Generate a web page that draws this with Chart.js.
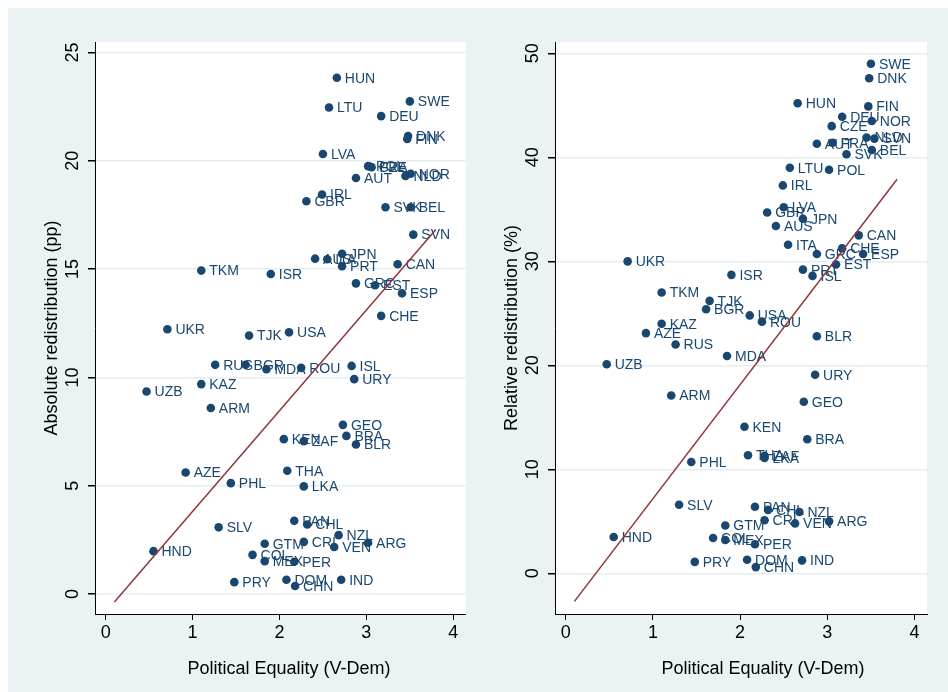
<!DOCTYPE html>
<html>
<head>
<meta charset="utf-8">
<script src="https://cdn.jsdelivr.net/npm/chart.js@4.4.1/dist/chart.umd.min.js"></script>
<style>
html,body{margin:0;padding:0;background:#fff;}
#bg{position:absolute;left:8px;top:8px;width:940px;height:684px;background:#eaf2f3;}
.box{position:absolute;top:8px;height:684px;}
#left{left:8px;width:462px;}
#right{left:470px;width:478px;}
</style>
</head>
<body>
<div id="bg"></div>
<div class="box" id="left"><canvas id="absChart"></canvas></div>
<div class="box" id="right"><canvas id="relChart"></canvas></div>
<script>
// data
const countries = ['HUN','SWE','LTU','DEU','DNK','FIN','LVA','POL','CZE','FRA','AUT','NOR','NLD','IRL','GBR','SVK','BEL','SVN',
  'AUS','ITA','JPN','PRT','CAN','TKM','ISR','GRC','EST','ESP','CHE','UKR','TJK','USA','RUS','BGR','MDA','ROU','ISL','URY',
  'KAZ','UZB','ARM','GEO','BRA','BLR','KEN','ZAF','AZE','PHL','THA','LKA','PAN','CHL','SLV','NZL','ARG','CRI','VEN','GTM',
  'HND','COL','MEX','PER','PRY','DOM','IND','CHN'];
const equality = [2.66,3.50,2.57,3.17,3.48,3.47,2.50,3.02,3.05,3.06,2.88,3.51,3.45,2.49,2.31,3.22,3.51,3.54,
  2.41,2.55,2.72,2.72,3.36,1.10,1.90,2.88,3.10,3.41,3.17,0.71,1.65,2.11,1.26,1.61,1.85,2.25,2.83,2.86,
  1.10,0.47,1.21,2.73,2.77,2.88,2.05,2.28,0.92,1.44,2.09,2.28,2.17,2.32,1.30,2.68,3.02,2.28,2.63,1.83,
  0.55,1.69,1.83,2.17,1.48,2.08,2.71,2.18];
const absRedist = [23.83,22.74,22.46,22.06,21.14,21.0,20.31,19.75,19.72,19.70,19.2,19.40,19.30,18.44,18.13,17.85,17.85,16.59,
  15.48,15.45,15.71,15.13,15.22,14.93,14.77,14.34,14.25,13.88,12.84,12.22,11.93,12.08,10.58,10.58,10.38,10.44,10.53,9.92,
  9.69,9.35,8.59,7.81,7.30,6.90,7.15,7.06,5.61,5.12,5.69,4.97,3.38,3.21,3.08,2.72,2.37,2.41,2.17,2.32,
  1.98,1.81,1.52,1.49,0.55,0.66,0.66,0.37];
const relRedist = [45.2,49.0,39.0,43.9,47.6,44.9,35.2,38.8,43.0,41.4,41.3,43.5,41.9,37.3,34.7,40.3,40.7,41.8,
  33.4,31.6,34.1,29.2,32.5,27.0,28.7,30.7,29.7,30.7,31.25,30.0,26.2,24.8,22.0,25.4,20.9,24.2,28.6,19.1,
  24.0,20.1,17.1,16.5,12.9,22.8,14.1,11.3,23.1,10.7,11.35,11.1,6.4,6.1,6.6,5.9,5.0,5.1,4.8,4.6,
  3.5,3.4,3.2,2.8,1.1,1.3,1.25,0.6];

// fitted lines (end points)
const fitX = [0.1, 3.8];
const absFit = [-0.37, 16.83];
const relFit = [-2.7, 37.9];

// tick labels
const xTicks = [0,1,2,3,4];
const absTicks = [0,5,10,15,20,25];
const relTicks = [0,10,20,30,40,50];

const NAVY = '#1a476f', MAROON = '#90353b';
const FONT = '"Liberation Sans", Arial, sans-serif';

function makeChart(id, ys, fit, yTicks, yMin, yMax, yTitle, yAxisW, padRight, xTitleX){
  const stataPlugin = {
    id:'stata',
    beforeDraw(chart){
      const a = chart.chartArea, ctx = chart.ctx;
      ctx.save(); ctx.fillStyle='#fff';
      ctx.fillRect(a.left, a.top, a.right-a.left, a.bottom-a.top);
      ctx.restore();
    },
    afterDatasetDraw(chart, args){
      if (args.index !== 0) return;
      const ctx = chart.ctx, meta = chart.getDatasetMeta(0);
      ctx.save();
      ctx.font = '14px ' + FONT; ctx.fillStyle = NAVY;
      ctx.textAlign='left'; ctx.textBaseline='middle';
      meta.data.forEach((pt,i)=>ctx.fillText(countries[i], pt.x+8, pt.y+1));
      ctx.restore();
    },
    afterDraw(chart){
      const ctx = chart.ctx, a = chart.chartArea, ys = chart.scales.y;
      ctx.save();
      ctx.fillStyle='#000'; ctx.font='18px ' + FONT;
      ctx.textAlign='center'; ctx.textBaseline='middle';
      yTicks.forEach(v=>{
        ctx.save(); ctx.translate(a.left-22, ys.getPixelForValue(v));
        ctx.rotate(-Math.PI/2); ctx.fillText(String(v),0,0); ctx.restore();
      });
      ctx.save(); ctx.translate(a.left-43, (a.top+a.bottom)/2);
      ctx.rotate(-Math.PI/2); ctx.fillText(yTitle,0,0); ctx.restore();
      ctx.fillText('Political Equality (V-Dem)', xTitleX, 661);
      ctx.restore();
    }
  };

  new Chart(document.getElementById(id), {
    type:'scatter',
    data:{datasets:[
      {data: equality.map((x,i)=>({x, y: ys[i]})), pointRadius:4.3, pointBackgroundColor:NAVY,
       pointBorderWidth:0, pointBorderColor:NAVY, order:1},
      {type:'line', data: fitX.map((x,i)=>({x, y: fit[i]})), borderColor:MAROON, borderWidth:1.5,
       pointRadius:0, fill:false, order:0}
    ]},
    options:{
      responsive:true, maintainAspectRatio:false, animation:false,
      layout:{padding:{top:34, right:padRight, left:0, bottom:0}},
      plugins:{legend:{display:false}, tooltip:{enabled:false}},
      scales:{
        x:{type:'linear', min:-0.123, max:4.143,
           afterBuildTicks: s=>{ s.ticks = xTicks.map(v=>({value:v})); },
           afterFit: s=>{ s.height = 78; },
           grid:{drawOnChartArea:false, drawTicks:true, tickLength:6, tickColor:'#000'},
           border:{display:true, color:'#000', width:1},
           ticks:{font:{family:FONT, size:18}, color:'#000', padding:2, maxRotation:0}},
        y:{type:'linear', min:yMin, max:yMax,
           afterBuildTicks: s=>{ s.ticks = yTicks.map(v=>({value:v})); },
           afterFit: s=>{ s.width = yAxisW; },
           grid:{color:'#e4eef0', lineWidth:1.5, drawTicks:true, tickLength:7, tickColor:'#000'},
           border:{display:true, color:'#000', width:1},
           ticks:{display:false}}
      }
    },
    plugins:[stataPlugin]
  });
}

makeChart('absChart', absRedist, absFit, absTicks, -0.92, 25.48, 'Absolute redistribution (pp)', 87, 3, 281);
makeChart('relChart', relRedist, relFit, relTicks, -3.91, 51.09, 'Relative redistribution (%)', 85, 21, 293);
</script>
</body>
</html>
